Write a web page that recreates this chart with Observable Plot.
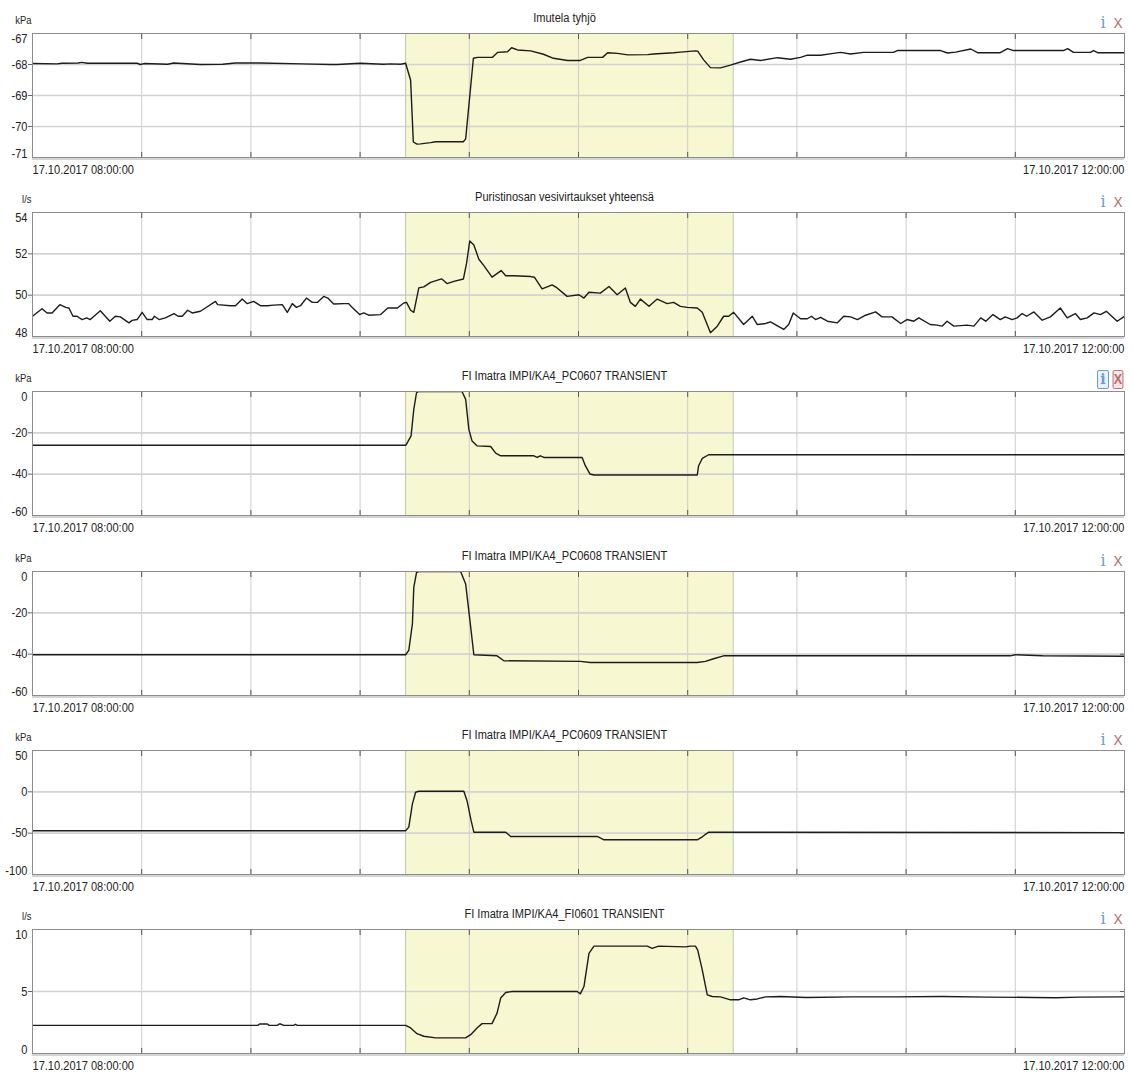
<!DOCTYPE html>
<html><head><meta charset="utf-8">
<script src="https://cdn.jsdelivr.net/npm/d3@7"></script>
<script src="https://cdn.jsdelivr.net/npm/@observablehq/plot@0.6"></script>
<style>
body{margin:0;background:#fff;}
#root{position:relative;width:1134px;height:1073px;overflow:hidden;background:#fff;}
.panel{position:absolute;left:0;width:1134px;height:176px;}
.panel svg{position:absolute;left:0;top:0;}
.ic{position:absolute;top:14px;height:17px;line-height:17px;text-align:center;width:12px;}
.ii{left:1097px;font-family:"DejaVu Serif",serif;font-size:16px;color:#6d9cd2;}
.ix{left:1112px;font-family:"Liberation Sans",sans-serif;font-size:15px;color:#b36c6c;transform:scaleX(0.9);}
.boxed{top:12px;}
.boxed.ii{border:1px solid #6d9cd2;background:#e9f1fb;border-radius:2px;width:10px;font-weight:bold;font-size:14px;}
.boxed.ix{border:1px solid #c06464;background:#f9e6e6;border-radius:2px;width:10px;font-weight:bold;font-size:14px;}
</style></head>
<body><div id="root"></div>
<script>
const FONT = '"Liberation Sans",Arial,sans-serif';
const NARROW = 0.82;

const titles = ["Imutela tyhjö", "Puristinosan vesivirtaukset yhteensä", "FI Imatra IMPI/KA4_PC0607 TRANSIENT", "FI Imatra IMPI/KA4_PC0608 TRANSIENT", "FI Imatra IMPI/KA4_PC0609 TRANSIENT", "FI Imatra IMPI/KA4_FI0601 TRANSIENT"];
const units = ["kPa", "l/s", "kPa", "kPa", "kPa", "l/s"];
const yTicks = [[-71, -70, -69, -68, -67], [48, 50, 52, 54], [-60, -40, -20, 0], [-60, -40, -20, 0], [-100, -50, 0, 50], [0, 5, 10]];
const dateLabels = ["17.10.2017 08:00:00", "17.10.2017 12:00:00"];
const dateMinutes = [0, 240];
const shadeMinutes = [82, 154];
const gridMinutes = [24, 48, 72, 96, 120, 144, 168, 192, 216];
const boxedIcons = [false, false, true, false, false, false];

// minutes after 08:00 and values
const t1 = [0, 5.4, 6.5, 10, 10.9, 12, 23, 23.7, 24.5, 29.7, 31, 36.9, 41.8, 44.6, 50, 59.3, 65.5, 67, 72, 77.1, 78.7, 80.9, 82, 83.1, 83.7, 84.5, 85.3, 87.5, 88.6, 94.7, 95.2, 96.9, 97.8, 101.1, 102.2, 104.4, 105.3, 106.6, 109.5, 112.3, 114.5, 117.6, 120.4, 122, 125.3, 126.4, 128.6, 130.8, 135.2, 136.5, 140.9, 142.4, 145.7, 146.2, 147.5, 149, 151.2, 153.4, 155.6, 157.8, 160, 163.7, 166.6, 168.8, 170.3, 173.2, 176, 177.6, 179.8, 182.6, 189.2, 190.1, 199.6, 201.1, 202.9, 206.2, 207.7, 212.7, 214.3, 215.6, 226.6, 227.5, 228.8, 232.5, 233.2, 234.1, 240];
const v1 = [-67.97, -67.98, -67.96, -67.95, -67.93, -67.96, -67.96, -68.0, -67.97, -67.99, -67.95, -68.0, -67.99, -67.95, -67.95, -67.98, -68.0, -68.0, -67.96, -67.99, -67.98, -67.99, -67.96, -68.5, -70.5, -70.57, -70.56, -70.52, -70.49, -70.49, -70.4, -67.8, -67.77, -67.77, -67.61, -67.59, -67.46, -67.53, -67.56, -67.67, -67.8, -67.87, -67.87, -67.77, -67.77, -67.62, -67.64, -67.69, -67.68, -67.66, -67.62, -67.6, -67.56, -67.57, -67.85, -68.1, -68.11, -68.02, -67.92, -67.83, -67.87, -67.78, -67.83, -67.77, -67.7, -67.7, -67.64, -67.61, -67.66, -67.61, -67.61, -67.55, -67.55, -67.63, -67.6, -67.5, -67.62, -67.62, -67.49, -67.55, -67.55, -67.49, -67.61, -67.61, -67.55, -67.62, -67.62];

const t2 = [0, 2.1, 3.2, 4.3, 6.0, 7.3, 8.0, 8.9, 9.8, 10.9, 11.9, 12.7, 14.9, 17.0, 18.2, 19.3, 21.2, 21.9, 23.0, 24.1, 25.2, 26.3, 26.8, 27.8, 29.2, 31.1, 32.0, 32.9, 34.1, 35.1, 36.9, 38.0, 40.2, 40.7, 43.5, 44.6, 46.1, 47.2, 48.6, 50.1, 51.6, 53.0, 54.9, 56.0, 57.1, 58.0, 58.9, 60.2, 61.5, 62.6, 64.0, 64.9, 66.2, 68.4, 69.5, 70.0, 71.9, 72.8, 73.9, 76.5, 78.1, 80.2, 81.6, 82.2, 83.1, 83.8, 84.9, 86.0, 87.5, 89.9, 91.1, 92.6, 94.7, 95.4, 96.1, 97.0, 98.1, 99.2, 101.0, 103.0, 104.0, 105.8, 109.5, 110.3, 112.0, 114.2, 115.3, 117.5, 120.1, 121.2, 122.3, 124.8, 126.7, 128.5, 130.3, 131.4, 132.5, 133.6, 135.5, 137.3, 139.5, 140.9, 142.4, 143.9, 146.1, 147.2, 149.0, 150.5, 151.9, 153.0, 154.1, 156.3, 158.2, 159.3, 161.1, 162.2, 165.1, 166.2, 167.2, 168.8, 170.3, 171.2, 172.1, 173.2, 174.7, 176.9, 178.3, 179.8, 181.3, 183.1, 185.3, 186.7, 188.9, 190.8, 192.2, 193.7, 194.8, 197.3, 198.8, 199.9, 201.0, 202.5, 205.4, 206.9, 208.4, 209.5, 211.1, 212.7, 213.8, 215.3, 216.4, 217.5, 218.5, 220.1, 221.9, 223.7, 225.9, 227.4, 229.2, 230.3, 231.8, 233.3, 234.7, 236.0, 238.4, 240];
const v2 = [48.98, 49.34, 49.14, 49.14, 49.54, 49.41, 49.38, 48.98, 48.98, 48.82, 48.9, 48.82, 49.25, 48.74, 48.98, 48.95, 48.66, 48.78, 48.82, 49.17, 48.82, 48.82, 48.98, 48.82, 48.9, 49.11, 48.98, 48.98, 49.27, 49.14, 49.22, 49.38, 49.7, 49.54, 49.49, 49.49, 49.82, 49.59, 49.7, 49.49, 49.49, 49.52, 49.54, 49.17, 49.59, 49.41, 49.49, 49.86, 49.65, 49.65, 49.94, 49.86, 49.57, 49.59, 49.59, 49.46, 49.06, 49.14, 49.03, 49.06, 49.38, 49.38, 49.62, 49.65, 49.27, 49.17, 50.35, 50.4, 50.62, 50.79, 50.56, 50.67, 50.78, 51.55, 52.62, 52.43, 51.74, 51.43, 50.87, 51.19, 50.94, 50.94, 50.9, 50.87, 50.3, 50.5, 50.35, 49.94, 50.02, 49.86, 50.14, 50.1, 50.42, 50.02, 50.35, 49.65, 49.46, 49.81, 49.46, 49.81, 49.59, 49.65, 49.46, 49.41, 49.38, 49.17, 48.18, 48.5, 48.98, 48.98, 49.17, 48.58, 48.98, 48.58, 48.63, 48.71, 48.34, 48.58, 49.14, 48.86, 48.86, 48.98, 48.82, 48.93, 48.74, 48.66, 48.98, 48.95, 48.82, 49.03, 49.19, 48.95, 48.95, 48.63, 48.82, 48.74, 48.9, 48.58, 48.55, 48.5, 48.74, 48.5, 48.55, 48.5, 48.9, 48.74, 49.06, 48.82, 48.95, 48.82, 48.9, 49.11, 48.98, 49.19, 48.79, 48.95, 49.38, 48.9, 49.11, 48.82, 48.9, 49.14, 49.06, 49.22, 48.74, 48.98];

const t3 = [0, 82.0, 82.2, 83.2, 83.8, 84.4, 84.9, 94.4, 95.2, 95.9, 96.6, 97.7, 100.7, 101.8, 102.9, 110.2, 110.9, 111.6, 112.4, 120.8, 121.5, 122.5, 123.4, 146.1, 146.4, 147.2, 148.6, 240];
const v3 = [-26, -26, -25.5, -21.5, -8.7, -0.6, 0, 0, -3.8, -18.3, -23.9, -26.3, -26.6, -29.8, -31.1, -31.1, -31.9, -31.1, -31.9, -31.9, -35.9, -39.9, -40.4, -40.4, -35.9, -32.4, -30.6, -30.6];

const t4 = [0, 82.0, 82.7, 83.5, 83.8, 84.4, 84.9, 94.1, 95.2, 96.3, 97.0, 102.1, 103.6, 120.4, 122.6, 146.1, 147.9, 149.7, 151.9, 214.9, 216.0, 222.0, 240];
const v4 = [-40.3, -40.3, -38.2, -25.2, -7.7, -0.5, 0, 0, -6, -26.8, -40.3, -40.8, -43.2, -43.5, -44, -44, -43.5, -42.2, -40.8, -40.8, -40.3, -40.8, -41.0];

const t5 = [0, 82.0, 82.7, 83.5, 84.2, 84.9, 94.8, 95.5, 96.4, 97.0, 104.0, 105.1, 124.1, 125.6, 146.1, 147.2, 148.6, 240];
const v5 = [-47, -47, -42.7, -14.5, -0.5, 0.7, 0.7, -10.7, -34.9, -48.8, -48.8, -54, -54, -58, -58, -54.4, -48.8, -49.3];

const t6 = [0, 49.5, 49.9, 51.6, 52.0, 53.8, 54.2, 54.5, 55.2, 57.4, 57.8, 58.2, 82.0, 83.1, 84.5, 86.0, 88.6, 95.2, 96.3, 97.7, 98.8, 101.0, 102.1, 102.9, 104.0, 105.4, 119.7, 120.4, 121.2, 122.3, 123.4, 135.1, 136.2, 137.6, 143.5, 144.6, 145.7, 146.2, 147.2, 148.3, 149.4, 151.2, 153.4, 155.2, 156.3, 157.8, 159.3, 161.1, 164.4, 170, 180, 190, 200, 210, 220, 225, 230, 240];
const v6 = [2.27, 2.27, 2.38, 2.38, 2.27, 2.27, 2.38, 2.38, 2.27, 2.27, 2.36, 2.27, 2.27, 2.06, 1.6, 1.39, 1.26, 1.26, 1.52, 2.06, 2.41, 2.41, 3.26, 4.47, 4.92, 5.0, 5.0, 4.81, 5.4, 8.08, 8.66, 8.66, 8.48, 8.66, 8.6, 8.66, 8.66, 8.34, 6.74, 4.73, 4.6, 4.57, 4.33, 4.33, 4.49, 4.33, 4.4, 4.57, 4.6, 4.52, 4.57, 4.57, 4.6, 4.55, 4.52, 4.5, 4.55, 4.57];

const times = [t1, t2, t3, t4, t5, t6];
const values = [v1, v2, v3, v4, v5, v6];

const START = Date.UTC(2017, 9, 17, 8, 0, 0);
const toDate = m => new Date(START + m * 60000);

const root = document.getElementById("root");
const PITCH = 179.2;

titles.forEach((title, i) => {
  const ticks = yTicks[i];
  const lo = ticks[0], hi = ticks[ticks.length - 1];
  const mid = ticks.slice(1, -1);
  const rows = times[i].map((m, k) => ({t: toDate(m), v: values[i][k]}));
  const gridDates = gridMinutes.map(toDate);
  const shadeDates = shadeMinutes.map(toDate);

  const svg = Plot.plot({
    width: 1134, height: 176,
    marginLeft: 32, marginRight: 10, marginTop: 33, marginBottom: 19,
    style: {background: "transparent", overflow: "visible", fontFamily: FONT, fontSize: "13.5px", color: "#222"},
    x: {type: "utc", domain: [toDate(0), toDate(240)], axis: null},
    y: {domain: [lo, hi], axis: null},
    marks: [
      Plot.rect([shadeDates], {x1: d => d[0], x2: d => d[1], fill: "#f7f7d1"}),
      Plot.gridX(gridDates, {stroke: "#cdcdcd", strokeOpacity: 1}),
      Plot.gridY(mid, {stroke: "#d3d3d3", strokeOpacity: 1, strokeWidth: 1.6}),
      Plot.ruleX(shadeDates, {stroke: "#c3c3b0"}),
      Plot.axisX(gridDates, {anchor: "bottom", tickSize: -5, tickFormat: () => "", stroke: "#555", label: null}),
      Plot.axisX(gridDates, {anchor: "top", tickSize: -5, tickFormat: () => "", stroke: "#555", label: null}),
      Plot.axisY(mid, {anchor: "right", tickSize: -5, tickFormat: () => "", stroke: "#666", label: null}),
      Plot.axisY(mid, {anchor: "left", tickSize: 4, tickPadding: 1, tickFormat: d => String(d), stroke: "#666", label: null, fontSize: 13.5}),
      Plot.text([hi], {y: d => d, frameAnchor: "left", textAnchor: "end", dx: -5, dy: 5, text: d => String(d), fontSize: 13.5}),
      Plot.text([lo], {y: d => d, frameAnchor: "left", textAnchor: "end", dx: -5, dy: -4, text: d => String(d), fontSize: 13.5}),
      Plot.line(rows, {x: "t", y: "v", stroke: "#1c1c1c", strokeWidth: 1.4, clip: true}),
      Plot.ruleY([lo], {stroke: "#d4d4d4", strokeWidth: 2, dy: 1.5}),
      Plot.frame({stroke: "#8c8c8c"}),
      Plot.text([units[i]], {frameAnchor: "top-left", textAnchor: "end", dx: -1, dy: -10, lineAnchor: "bottom", fontSize: 11.5}),
      Plot.text([title], {frameAnchor: "top", dx: -14, dy: -11.5, lineAnchor: "bottom", fontSize: 13.5}),
      Plot.text([dateMinutes[0]], {x: toDate, frameAnchor: "bottom", textAnchor: "start", dy: 16, lineAnchor: "bottom", text: () => dateLabels[0], fontSize: 13.5}),
      Plot.text([dateMinutes[1]], {x: toDate, frameAnchor: "bottom", textAnchor: "end", dy: 16, lineAnchor: "bottom", text: () => dateLabels[1], fontSize: 13.5})
    ]
  });

  // narrow the typeface horizontally about each text's own anchor point
  svg.querySelectorAll("text").forEach(el => {
    const tr = el.getAttribute("transform");
    if (tr && tr.includes("translate")) el.setAttribute("transform", tr + ` scale(${NARROW},1)`);
  });

  const panel = document.createElement("div");
  panel.className = "panel";
  panel.style.top = Math.round(i * PITCH) + "px";
  panel.appendChild(svg);
  const b = boxedIcons[i] ? " boxed" : "";
  const ii = document.createElement("span"); ii.className = "ic ii" + b; ii.textContent = "i";
  const ix = document.createElement("span"); ix.className = "ic ix" + b; ix.textContent = "X";
  panel.appendChild(ii); panel.appendChild(ix);
  root.appendChild(panel);
});
</script>
</body></html>
